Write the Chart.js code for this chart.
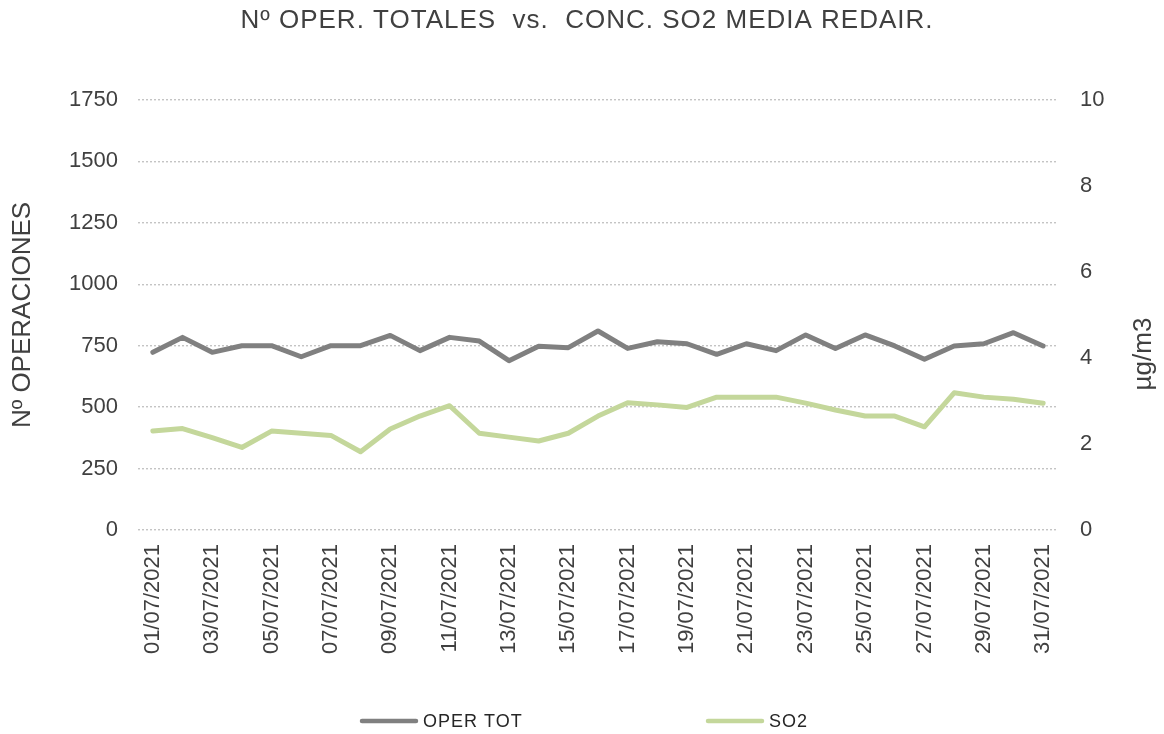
<!DOCTYPE html>
<html lang="es">
<head>
    <meta charset="UTF-8">
    <title>Nº OPER. TOTALES vs. CONC. SO2 MEDIA REDAIR.</title>
    <script src="https://cdn.jsdelivr.net/npm/chart.js"></script>
    <style>
        body { margin: 0; background: #fff; }
    </style>
</head>
<body>
    <canvas id="operChart" width="1164" height="734"></canvas>
    <script>
    // datos
    const dias = [];
    for (let d = 1; d <= 31; d++) {
        dias.push(String(d).padStart(2, '0') + '/07/2021');
    }
    const operTot = [723, 784, 723, 750, 750, 705, 750, 750, 792, 730, 784, 769, 689, 748, 742, 810,
                     739, 766, 758, 715, 758, 730, 794, 739, 794, 749, 695, 749, 758, 803, 749];
    const so2 = [2.30, 2.36, 2.15, 1.92, 2.30, 2.25, 2.20, 1.82, 2.35, 2.65, 2.89, 2.25, 2.16, 2.07, 2.25, 2.65,
                 2.96, 2.91, 2.85, 3.09, 3.09, 3.09, 2.95, 2.79, 2.65, 2.65, 2.40, 3.19, 3.09, 3.04, 2.95];
    const ticksOper = [0, 250, 500, 750, 1000, 1250, 1500, 1750];
    const ticksSo2 = [0, 2, 4, 6, 8, 10];

    const titulo = 'Nº OPER. TOTALES  vs.  CONC. SO2 MEDIA REDAIR.';
    const txtColor = '#404040';
    const fuente = 'Liberation Sans, Arial, sans-serif';

    // titulo, titulo del eje derecho y leyenda (como en Excel)
    const extras = {
        id: 'extras',
        afterDraw(chart) {
            const ctx = chart.ctx;
            ctx.save();
            ctx.fillStyle = txtColor;
            ctx.font = '26px ' + fuente;
            ctx.letterSpacing = '1px';
            ctx.textAlign = 'center';
            ctx.textBaseline = 'middle';
            ctx.fillText(titulo, 587, 21);
            ctx.restore();

            ctx.save();
            ctx.fillStyle = txtColor;
            ctx.font = '26px ' + fuente;
            ctx.textAlign = 'center';
            ctx.textBaseline = 'middle';
            ctx.translate(1144, 354);
            ctx.rotate(-Math.PI / 2);
            ctx.fillText('µg/m3', 0, 0);
            ctx.restore();

            // leyenda
            const starts = [362, 708];
            ctx.save();
            ctx.font = '18px ' + fuente;
            ctx.letterSpacing = '1px';
            ctx.textBaseline = 'middle';
            ctx.textAlign = 'left';
            chart.data.datasets.forEach((ds, i) => {
                const x = starts[i];
                const y = 721;
                ctx.strokeStyle = ds.borderColor;
                ctx.lineWidth = 4.5;
                ctx.lineCap = 'round';
                ctx.beginPath();
                ctx.moveTo(x, y);
                ctx.lineTo(x + 54, y);
                ctx.stroke();
                ctx.fillStyle = '#262626';
                ctx.fillText(ds.label, x + 61, y + 1);
            });
            ctx.restore();
        }
    };

    new Chart(document.getElementById('operChart').getContext('2d'), {
        type: 'line',
        data: {
            labels: dias,
            datasets: [{
                label: 'OPER TOT',
                data: operTot,
                yAxisID: 'y',
                borderColor: '#808080',
                backgroundColor: '#808080',
                borderWidth: 5,
                borderCapStyle: 'round',
                borderJoinStyle: 'round',
                pointRadius: 0,
                tension: 0
            }, {
                label: 'SO2',
                data: so2,
                yAxisID: 'y2',
                borderColor: '#c4d79b',
                backgroundColor: '#c4d79b',
                borderWidth: 5,
                borderCapStyle: 'round',
                borderJoinStyle: 'round',
                pointRadius: 0,
                tension: 0
            }]
        },
        options: {
            responsive: false,
            animation: false,
            layout: { padding: { top: 100, left: 0, right: 0, bottom: 0 } },
            plugins: {
                legend: { display: false },
                tooltip: { enabled: false },
                title: { display: false }
            },
            scales: {
                x: {
                    offset: true,
                    grid: { display: false, drawTicks: false },
                    border: { display: false },
                    ticks: {
                        autoSkip: false,
                        maxRotation: 90,
                        minRotation: 90,
                        padding: 14,
                        color: txtColor,
                        font: { family: fuente, size: 22 },
                        callback: function (val, i) {
                            return i % 2 === 0 ? this.getLabelForValue(val) : '';
                        }
                    },
                    afterFit(scale) { scale.height = 204; }
                },
                y: {
                    position: 'left',
                    min: 0,
                    max: 1750,
                    afterBuildTicks(scale) { scale.ticks = ticksOper.map(v => ({ value: v })); },
                    grid: { color: '#c4c4c4', lineWidth: 1.4, drawTicks: false },
                    border: { display: false, dash: [2, 2] },
                    ticks: {
                        padding: 20,
                        color: txtColor,
                        font: { family: fuente, size: 22 },
                        callback: v => String(v)
                    },
                    title: {
                        display: true,
                        text: 'Nº OPERACIONES',
                        color: txtColor,
                        font: { family: fuente, size: 26 },
                        padding: { top: 7, bottom: 0 }
                    },
                    afterFit(scale) { scale.width = 138; }
                },
                y2: {
                    position: 'right',
                    min: 0,
                    max: 10,
                    afterBuildTicks(scale) { scale.ticks = ticksSo2.map(v => ({ value: v })); },
                    grid: { display: false, drawTicks: false },
                    border: { display: false },
                    ticks: {
                        padding: 22,
                        color: txtColor,
                        font: { family: fuente, size: 22 },
                        callback: v => String(v)
                    },
                    afterFit(scale) { scale.width = 106; }
                }
            }
        },
        plugins: [extras]
    });
    </script>
</body>
</html>
